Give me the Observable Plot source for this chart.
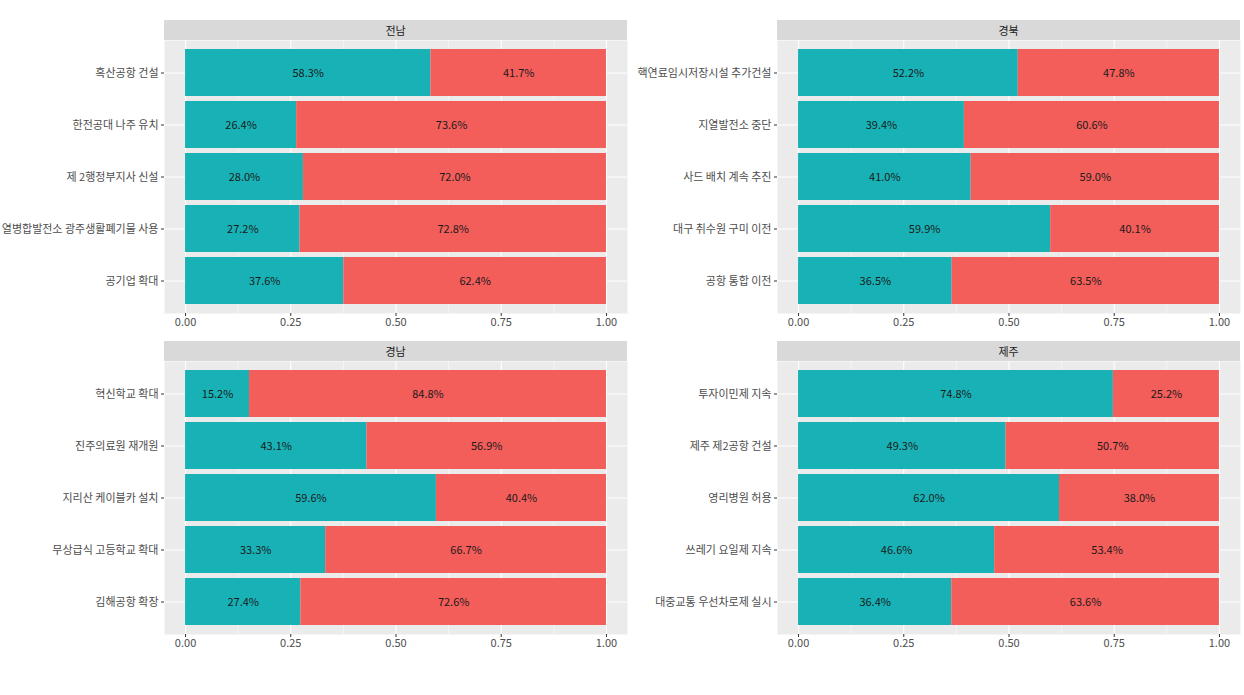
<!DOCTYPE html>
<html>
<head>
<meta charset="utf-8">
<script src="https://cdn.jsdelivr.net/npm/d3@7"></script>
<script src="https://cdn.jsdelivr.net/npm/@observablehq/plot@0.6"></script>
<style>
  body { margin: 0; background: #fff; font-family: "Noto Sans CJK KR", "Noto Sans", sans-serif; }
  #root { position: relative; width: 1244px; height: 695px; overflow: hidden; }
  .strip { position: absolute; width: 463px; height: 20px; background: #D9D9D9; color: #1A1A1A;
           font-size: 11px; text-align: center; line-height: 20px; }
  .panel { position: absolute; }
</style>
</head>
<body>
<div id="root"></div>
<script>
// ---- data ----
const regions = ["전남", "경북", "경남", "제주"];

const itemsJeonnam = ["흑산공항 건설", "한전공대 나주 유치", "제 2행정부지사 신설", "열병합발전소 광주생활폐기물 사용", "공기업 확대"];
const yesJeonnam = [0.583, 0.264, 0.280, 0.272, 0.376];
const noJeonnam  = [0.417, 0.736, 0.720, 0.728, 0.624];

const itemsGyeongbuk = ["핵연료임시저장시설 추가건설", "지열발전소 중단", "사드 배치 계속 추진", "대구 취수원 구미 이전", "공항 통합 이전"];
const yesGyeongbuk = [0.522, 0.394, 0.410, 0.599, 0.365];
const noGyeongbuk  = [0.478, 0.606, 0.590, 0.401, 0.635];

const itemsGyeongnam = ["혁신학교 확대", "진주의료원 재개원", "지리산 케이블카 설치", "무상급식 고등학교 확대", "김해공항 확장"];
const yesGyeongnam = [0.152, 0.431, 0.596, 0.333, 0.274];
const noGyeongnam  = [0.848, 0.569, 0.404, 0.667, 0.726];

const itemsJeju = ["투자이민제 지속", "제주 제2공항 건설", "영리병원 허용", "쓰레기 요일제 지속", "대중교통 우선차로제 실시"];
const yesJeju = [0.748, 0.493, 0.620, 0.466, 0.364];
const noJeju  = [0.252, 0.507, 0.380, 0.534, 0.636];

const majorTicks = [0, 0.25, 0.5, 0.75, 1];
const minorTicks = [0.125, 0.375, 0.625, 0.875];

const sides = ["yes", "no"];
const sideColors = ["#18B2B6", "#F35E5A"];

const panels = [
  {region: regions[0], items: itemsJeonnam, yes: yesJeonnam, no: noJeonnam},
  {region: regions[1], items: itemsGyeongbuk, yes: yesGyeongbuk, no: noGyeongbuk},
  {region: regions[2], items: itemsGyeongnam, yes: yesGyeongnam, no: noGyeongnam},
  {region: regions[3], items: itemsJeju, yes: yesJeju, no: noJeju}
];

const root = document.getElementById("root");
const FONT = '"Noto Sans CJK KR", "Noto Sans", sans-serif';

panels.forEach((p, i) => {
  const col = i % 2, row = Math.floor(i / 2);
  const left = col * 613;
  const stripTop = 20 + row * 321;

  const strip = document.createElement("div");
  strip.className = "strip";
  strip.style.left = (left + 164) + "px";
  strip.style.top = stripTop + "px";
  strip.textContent = p.region;
  root.appendChild(strip);

  const rows = [];
  p.items.forEach((it, k) => {
    rows.push({item: it, side: "yes", x1: 0, x2: p.yes[k], v: p.yes[k]});
    rows.push({item: it, side: "no", x1: p.yes[k], x2: p.yes[k] + p.no[k], v: p.no[k]});
  });

  const chart = Plot.plot({
    width: 627,
    height: 303,
    marginTop: 0,
    marginBottom: 30,
    marginLeft: 164,
    marginRight: 0,
    style: {fontFamily: FONT, fontSize: "11px", background: "transparent", overflow: "visible"},
    x: {domain: [-0.05, 1.05], label: null},
    y: {domain: p.items, paddingInner: 0.1, paddingOuter: 0.15, label: null},
    color: {domain: sides, range: sideColors},
    marks: [
      Plot.frame({fill: "#EBEBEB", stroke: "none"}),
      Plot.ruleX(minorTicks, {stroke: "#FFFFFF", strokeWidth: 0.5}),
      Plot.ruleX(majorTicks, {stroke: "#FFFFFF", strokeWidth: 1.1}),
      Plot.ruleY(p.items, {y: d => d, stroke: "#FFFFFF", strokeWidth: 1.1}),
      Plot.barX(rows, {x1: "x1", x2: "x2", y: "item", fill: "side"}),
      Plot.text(rows, {x: d => (d.x1 + d.x2) / 2, y: "item", text: d => (d.v * 100).toFixed(1) + "%", fill: "#1A1A1A", fontSize: 11}),
      Plot.axisX(majorTicks, {tickFormat: d3.format(".2f"), tickSize: 3, tickPadding: 2, stroke: "#333333", fill: "#4D4D4D", fontSize: 11, label: null}),
      Plot.axisY({tickSize: 3, tickPadding: 3, stroke: "#333333", fill: "#4D4D4D", fontSize: 11, label: null})
    ]
  });
  chart.classList.add("panel");
  chart.style.left = left + "px";
  chart.style.top = (stripTop + 20) + "px";
  root.appendChild(chart);
});
</script>
</body>
</html>
